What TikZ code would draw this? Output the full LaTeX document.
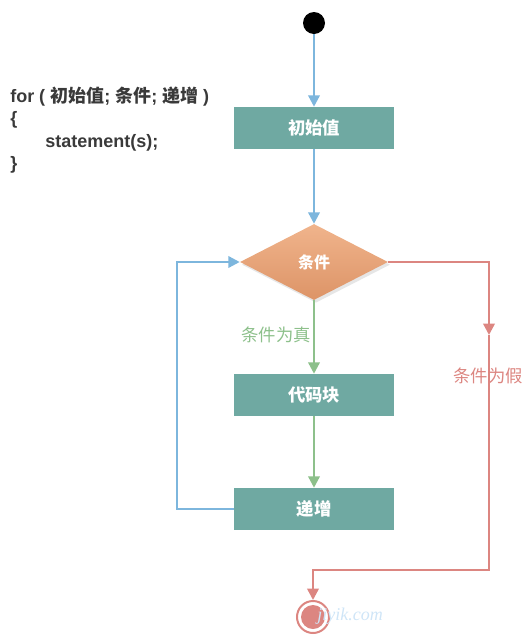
\documentclass[tikz,border=0pt]{standalone}
\usepackage{fontspec}
\setmainfont{Liberation Sans}
\newfontfamily\cjk{Noto Sans CJK SC}
\newfontfamily\wmfont{Liberation Serif}
\usetikzlibrary{arrows.meta,shapes.geometric,shadows}
\definecolor{boxteal}{HTML}{6FA9A2}
\definecolor{flowblue}{HTML}{7DB6DD}
\definecolor{flowgreen}{HTML}{8DC08B}
\definecolor{flowred}{HTML}{DC8681}
\definecolor{condtop}{HTML}{F0B48C}
\definecolor{condbot}{HTML}{DD9467}
\definecolor{codegray}{HTML}{3A3A3A}
\definecolor{wmblue}{HTML}{CFE5F7}

\begin{document}
\begin{tikzpicture}[x=0.75pt, y=-0.75pt, >={Triangle[width=8.5pt,length=8.5pt]}]
\tikzset{stepbox/.style={fill=boxteal, text=white, minimum width=120pt, minimum height=31.5pt, inner sep=0pt, font=\cjk\bfseries\fontsize{13}{15}\selectfont} }
\tikzset{condbox/.style={diamond, aspect=1.95, minimum width=111pt, minimum height=57pt, inner sep=0pt, top color=condtop, bottom color=condbot, draw=none, text=white, font=\cjk\bfseries\fontsize{12}{14}\selectfont, drop shadow={opacity=0.2, shadow xshift=1.5pt, shadow yshift=-2pt}} }
\tikzset{flow/.style={line width=1.8pt}}
\tikzset{codeline/.style={anchor=west, inner sep=0pt, text=codegray, font=\bfseries\fontsize{13.5}{15}\selectfont}}
\useasboundingbox (0,0) rectangle (531,640);
% code
\node[codeline] (code1) at (10,97)  {for ( {\cjk 初始值}; {\cjk 条件}; {\cjk 递增} )};
\node[codeline] (code2) at (10,120) {\{};
\node[codeline] (code3) at (45,143) {statement(s);};
\node[codeline] (code4) at (10,165) {\}};
% flow
\node[circle, fill=black, minimum size=16.5pt, inner sep=0pt] (start) at (314,23) {};
\node[stepbox] (init) at (314,128) {初始值};
\node[condbox] (cond) at (314,262) {条件};
\node[stepbox] (body) at (314,395) {代码块};
\node[stepbox] (incr) at (314,509) {递增};
\node[circle, draw=flowred, line width=1.5pt, minimum size=24pt, inner sep=0pt] (stop) at (313,617) {};
\fill[flowred] (stop) circle (9pt);
\node[text=wmblue, font=\wmfont\itshape\fontsize{13.5}{14}\selectfont] (wm) at (350,616) {jiyik.com};
\coordinate (loop) at (177,262);
\coordinate (fmid) at (489,335);
\coordinate (fcorner) at (489,570);
\draw[flow, flowblue, ->] (start) -- (init);
\draw[flow, flowblue, ->] (init) -- (cond);
\draw[flow, flowgreen, ->] (cond) -- (body);
\draw[flow, flowgreen, ->] (body) -- (incr);
\draw[flow, flowblue, ->] (incr.west) -| (loop) -- (cond.west);
\draw[flow, flowred, ->] (cond.east) -| (fmid);
\draw[flow, flowred, ->] (fmid) -- (fcorner) -| (stop);
\node[text=flowgreen, font=\cjk\fontsize{13}{14}\selectfont] (truelbl) at (276,335) {条件为真};
\node[text=flowred, font=\cjk\fontsize{13}{14}\selectfont] (falselbl) at (488,376) {条件为假};
\end{tikzpicture}
\end{document}
